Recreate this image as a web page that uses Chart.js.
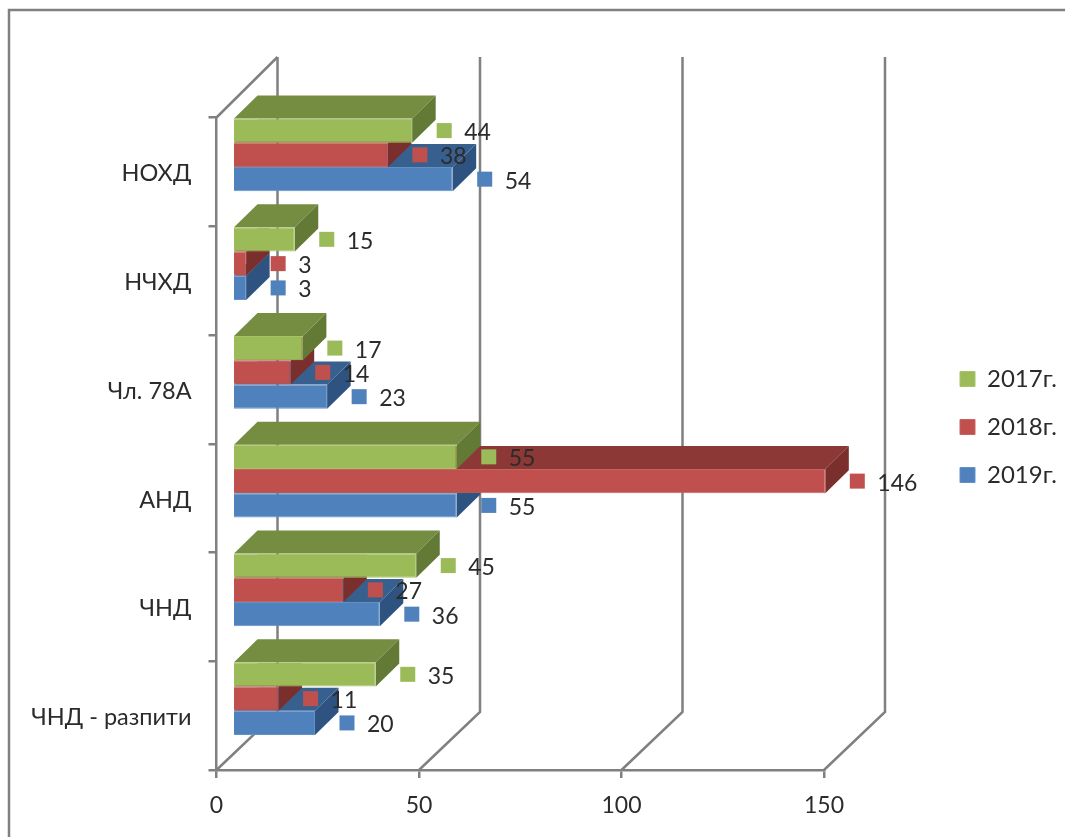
<!DOCTYPE html>
<html><head><meta charset="utf-8">
<style>html,body{margin:0;padding:0;background:#fff}canvas{display:block;filter:blur(0.5px)}</style>
<script src="https://cdn.jsdelivr.net/npm/chart.js@4"></script>
</head><body><canvas id="c" width="1065" height="837"></canvas>
<script>
const categories = ["НОХД","НЧХД","Чл. 78А","АНД","ЧНД","ЧНД - разпити"];
const values2017 = [44,15,17,55,45,35];
const values2018 = [38,3,14,146,27,11];
const values2019 = [54,3,23,55,36,20];
const seriesNames = ["2017г.","2018г.","2019г."];
const frontColors = ["#9BBB59","#C0504D","#4F81BD"];
const edgeColors  = ["#A5C369","#C9615E","#6490C6"];
const topColors   = ["#758D41","#8C3836","#38608F"];
const sideColors  = ["#637A36","#7B2F2D","#2F5380"];
const xTicksMax = 150, xStep = 50;
const FONT = '"Lato","Noto Sans",sans-serif', TEXT = '#2b2b2b', AXIS = '#808080';
const BAR_DX = 17.5, BAR_DY = -17, DEPTH_X = 23.5, DEPTH_Y = 23, WALL_DX = 61, WALL_DY = 58, WALL_TOP = 57;

function poly(ctx, pts, fill){
  ctx.beginPath(); pts.forEach((p,i)=> i?ctx.lineTo(p[0],p[1]):ctx.moveTo(p[0],p[1])); ctx.closePath();
  ctx.fillStyle = fill; ctx.fill();
}
const frame3d = {
  id:'frame3d',
  beforeDraw(chart){
    const ctx = chart.ctx; ctx.save();
    ctx.strokeStyle = AXIS; ctx.lineWidth = 2.5;
    ctx.beginPath(); ctx.moveTo(9,837); ctx.lineTo(9,10); ctx.lineTo(1065,10); ctx.stroke();
    ctx.restore();
  },
  beforeDatasetsDraw(chart){
    const ctx = chart.ctx, x = chart.scales.x, a = chart.chartArea;
    ctx.save(); ctx.strokeStyle = AXIS; ctx.lineWidth = 2.5;
    x.ticks.forEach(t=>{
      const px = x.getPixelForValue(t.value);
      ctx.beginPath(); ctx.moveTo(px,a.bottom); ctx.lineTo(px+WALL_DX,a.bottom-WALL_DY); ctx.lineTo(px+WALL_DX,WALL_TOP); ctx.stroke();
    });
    const l = x.getPixelForValue(0);
    ctx.beginPath(); ctx.moveTo(l,a.top); ctx.lineTo(l+WALL_DX,WALL_TOP); ctx.stroke();
    ctx.restore();
  },
  beforeDatasetDraw(chart,args){
    const ctx = chart.ctx, i = args.index;
    ctx.save(); ctx.translate(BAR_DX,BAR_DY);
    args.meta.data.forEach(b=>{
      const t = b.y-b.height/2, bt = b.y+b.height/2, l = b.base, r = b.x;
      poly(ctx,[[l,t],[r,t],[r+DEPTH_X,t-DEPTH_Y],[l+DEPTH_X,t-DEPTH_Y]],topColors[i]);
      poly(ctx,[[r,t],[r+DEPTH_X,t-DEPTH_Y],[r+DEPTH_X,bt-DEPTH_Y],[r,bt]],sideColors[i]);
    });
  },
  afterDatasetDraw(chart){ chart.ctx.restore(); },
  afterDatasetsDraw(chart){
    const ctx = chart.ctx;
    ctx.save();
    chart.data.datasets.forEach((ds,i)=>{
      chart.getDatasetMeta(i).data.forEach((b,j)=>{
        const cx = b.x+BAR_DX+32, cy = b.y+BAR_DY;
        ctx.fillStyle = frontColors[i]; ctx.fillRect(cx-7.5,cy-7.5,15,15);
        ctx.fillStyle = TEXT; ctx.font = '23px '+FONT; ctx.textAlign='left'; ctx.textBaseline='middle';
        ctx.fillText(String(ds.data[j]),cx+20,cy+2);
      });
    });
    ctx.restore();
  },
  afterLayout(chart){
    const lg = chart.legend;
    if(lg){ lg.left = 936; lg.top = 343; lg.width = 129; lg.height = 456; lg.right = 1065; lg.bottom = 799; }
  }
};
new Chart(document.getElementById('c'),{
  type:'bar',
  plugins:[frame3d],
  data:{labels:categories,datasets:[
    {label:seriesNames[0],data:values2017},
    {label:seriesNames[1],data:values2018},
    {label:seriesNames[2],data:values2019}
  ].map((d,i)=>({...d,xAxisID:'xb',backgroundColor:frontColors[i],borderColor:edgeColors[i],borderWidth:1,clip:false,categoryPercentage:0.67,barPercentage:1}))},
  options:{
    indexAxis:'y',responsive:false,animation:false,
    layout:{padding:{top:117.5,right:241,left:0,bottom:0}},
    plugins:{tooltip:{enabled:false},
      legend:{position:'chartArea',align:'start',labels:{boxWidth:15,boxHeight:15,padding:24,color:TEXT,font:{family:FONT,size:24}}}},
    scales:{
      x:{min:0,max:xTicksMax,ticks:{stepSize:xStep,color:TEXT,padding:14,maxRotation:0,font:{family:FONT,size:23}},
        grid:{drawOnChartArea:false,color:AXIS,lineWidth:2.5,tickLength:8},border:{color:AXIS,width:2.5},
        afterFit(s){s.height=67;}},
      xb:{axis:'x',position:'bottom',display:false,min:0,max:xTicksMax},
      y:{ticks:{color:TEXT,padding:17,labelOffset:2,font:{family:FONT,size:23.5}},
        grid:{drawOnChartArea:false,color:AXIS,lineWidth:2.5,tickLength:8},border:{color:AXIS,width:2.5},
        afterFit(s){s.width=216.5;}}
    }
  }
});
</script></body></html>
